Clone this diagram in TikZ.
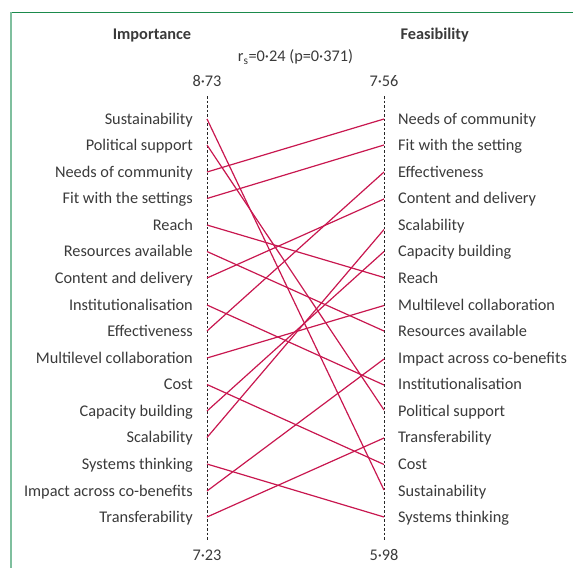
\documentclass[tikz,border=0pt]{standalone}
\usepackage{fontspec}
\setmainfont{Carlito}
\usetikzlibrary{positioning}
\definecolor{rankred}{HTML}{C8174F}
\definecolor{textgrey}{HTML}{3A3A3A}
\definecolor{framegreen}{HTML}{1B8A4C}
\definecolor{framemint}{HTML}{7FBF9E}
\tikzset{
    %Define style for the item labels
    item/.style={
           text=textgrey,
           inner sep=0pt,
           font=\fontsize{16.3}{19}\selectfont},
    leftitem/.style={item, anchor=base east},
    rightitem/.style={item, anchor=base west},
    %Define style for headings
    heading/.style={item, anchor=base, font=\fontsize{16.3}{19}\selectfont\bfseries},
    % Define axis style
    axis/.style={
           draw=black!85,
           line width=0.9pt,
           dash pattern=on 2.5pt off 2pt,
           shorten <=9pt,
           shorten >=9pt},
    % Define rank line style
    rank/.style={
           draw=rankred,
           line width=1.2pt}
}
\begin{document}
\begin{tikzpicture}[x=1pt, y=-1pt]
    \useasboundingbox (0,0) rectangle (573,568);
    \draw[framegreen, line width=1.5pt] (11,12.5) -- (573,12.5);
    \draw[framemint, line width=2pt] (11,12) -- (11,568);

    \node [heading] (importance) at (152,39) {Importance};
    \node [heading] (feasibility) at (434.7,39) {Feasibility};
    \node [item, anchor=base] (rho) at (295.5,61.7) {r\textsubscript{s}=0·24 (p=0·371)};
    \node [item, anchor=base] (impTop) at (207,86.7) {8·73};
    \node [item, anchor=base] (feaTop) at (384,86.7) {7·56};
    \node [item, anchor=base] (impBot) at (207,560) {7·23};
    \node [item, anchor=base] (feaBot) at (384,560) {5·98};
    \path (impTop) edge[axis] (impBot);
    \path (feaTop) edge[axis] (feaBot);

    % importance ranking
    \node [leftitem] (labImpSus) at (193,124) {Sustainability};
    \node [leftitem] (labImpPol) at (193,150.6) {Political support};
    \node [leftitem] (labImpNeeds) at (193,177.1) {Needs of community};
    \node [leftitem] (labImpFit) at (193,203.7) {Fit with the settings};
    \node [leftitem] (labImpReach) at (193,230.3) {Reach};
    \node [leftitem] (labImpRes) at (193,256.9) {Resources available};
    \node [leftitem] (labImpCont) at (193,283.4) {Content and delivery};
    \node [leftitem] (labImpInst) at (193,310) {Institutionalisation};
    \node [leftitem] (labImpEff) at (193,336.6) {Effectiveness};
    \node [leftitem] (labImpMulti) at (193,363.1) {Multilevel collaboration};
    \node [leftitem] (labImpCost) at (193,389.7) {Cost};
    \node [leftitem] (labImpCap) at (193,416.3) {Capacity building};
    \node [leftitem] (labImpScal) at (193,442.8) {Scalability};
    \node [leftitem] (labImpSys) at (193,469.4) {Systems thinking};
    \node [leftitem] (labImpImp) at (193,496) {Impact across co-benefits};
    \node [leftitem] (labImpTrans) at (193,522.6) {Transferability};

    % feasibility ranking
    \node [rightitem] (labFeaNeeds) at (398,124) {Needs of community};
    \node [rightitem] (labFeaFit) at (398,150.6) {Fit with the setting};
    \node [rightitem] (labFeaEff) at (398,177.1) {Effectiveness};
    \node [rightitem] (labFeaCont) at (398,203.7) {Content and delivery};
    \node [rightitem] (labFeaScal) at (398,230.3) {Scalability};
    \node [rightitem] (labFeaCap) at (398,256.9) {Capacity building};
    \node [rightitem] (labFeaReach) at (398,283.4) {Reach};
    \node [rightitem] (labFeaMulti) at (398,310) {Multilevel collaboration};
    \node [rightitem] (labFeaRes) at (398,336.6) {Resources available};
    \node [rightitem] (labFeaImp) at (398,363.1) {Impact across co-benefits};
    \node [rightitem] (labFeaInst) at (398,389.7) {Institutionalisation};
    \node [rightitem] (labFeaPol) at (398,416.3) {Political support};
    \node [rightitem] (labFeaTrans) at (398,442.8) {Transferability};
    \node [rightitem] (labFeaCost) at (398,469.4) {Cost};
    \node [rightitem] (labFeaSus) at (398,496) {Sustainability};
    \node [rightitem] (labFeaSys) at (398,522.6) {Systems thinking};

    % points on the two axes
    \coordinate (impSus) at (207,119);
    \coordinate (impPol) at (207,145);
    \coordinate (impNeeds) at (207,172);
    \coordinate (impFit) at (207,198.5);
    \coordinate (impReach) at (207,225);
    \coordinate (impRes) at (207,251.5);
    \coordinate (impCont) at (207,278);
    \coordinate (impInst) at (207,305);
    \coordinate (impEff) at (207,331);
    \coordinate (impMulti) at (207,358);
    \coordinate (impCost) at (207,384.5);
    \coordinate (impCap) at (207,411);
    \coordinate (impScal) at (207,437.5);
    \coordinate (impSys) at (207,464);
    \coordinate (impImp) at (207,491);
    \coordinate (impTrans) at (207,517);
    \coordinate (feaNeeds) at (384,119);
    \coordinate (feaFit) at (384,145);
    \coordinate (feaEff) at (384,172);
    \coordinate (feaCont) at (384,199);
    \coordinate (feaScal) at (384,229.5);
    \coordinate (feaCap) at (384,251.5);
    \coordinate (feaReach) at (384,277.5);
    \coordinate (feaMulti) at (384,305.5);
    \coordinate (feaRes) at (384,331);
    \coordinate (feaImp) at (384,359);
    \coordinate (feaInst) at (384,385);
    \coordinate (feaPol) at (384,410);
    \coordinate (feaTrans) at (384,438);
    \coordinate (feaCost) at (384,464.5);
    \coordinate (feaSus) at (384,490);
    \coordinate (feaSys) at (384,517);

	\path (impSus) edge[rank] (feaSus);
	\path (impPol) edge[rank] (feaPol);
	\path (impNeeds) edge[rank] (feaNeeds);
	\path (impFit) edge[rank] (feaFit);
	\path (impReach) edge[rank] (feaReach);
	\path (impRes) edge[rank] (feaRes);
	\path (impCont) edge[rank] (feaCont);
	\path (impInst) edge[rank] (feaInst);
	\path (impEff) edge[rank] (feaEff);
	\path (impMulti) edge[rank] (feaMulti);
	\path (impCost) edge[rank] (feaCost);
	\path (impCap) edge[rank] (feaCap);
	\path (impScal) edge[rank] (feaScal);
	\path (impSys) edge[rank] (feaSys);
	\path (impImp) edge[rank] (feaImp);
	\path (impTrans) edge[rank] (feaTrans);
\end{tikzpicture}
\end{document}
